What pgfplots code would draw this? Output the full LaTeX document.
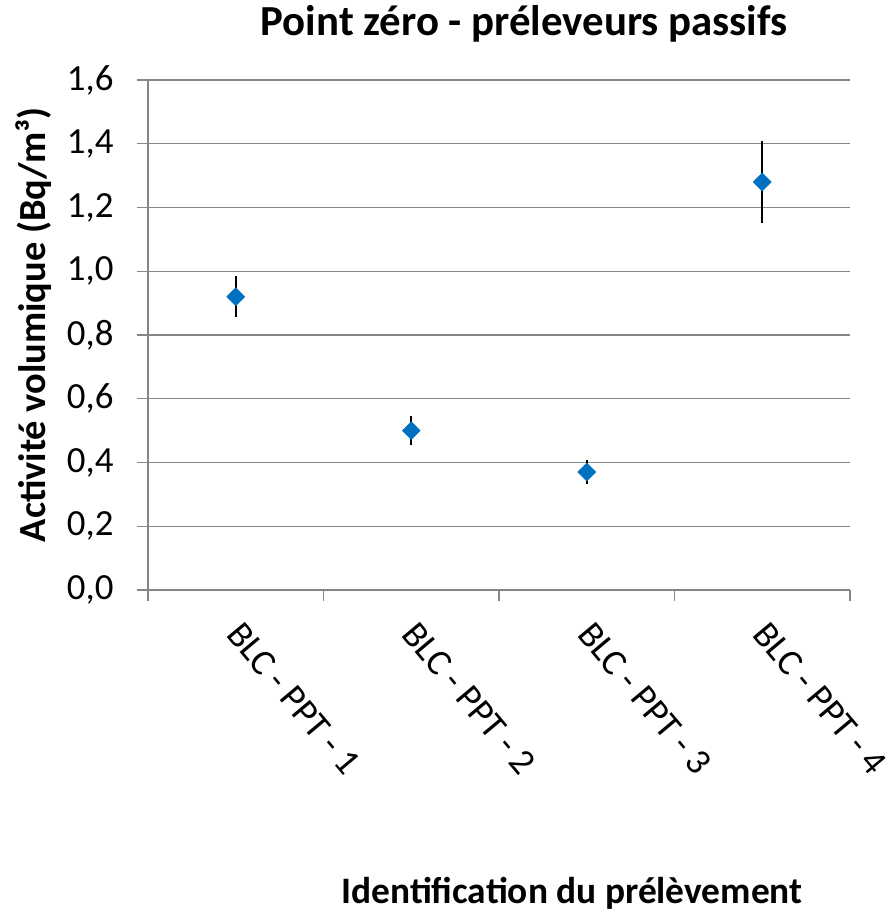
\documentclass[border=0pt]{standalone}
\usepackage{fontspec}
\setmainfont{Carlito}
\usepackage{pgfplots}
\pgfplotsset{compat=1.18}
\definecolor{gridgray}{HTML}{868686}
\definecolor{xlblue}{HTML}{0070C0}
\begin{document}
\begin{tikzpicture}
\path[use as bounding box] (-148bp,-322bp) rectangle (739bp,590bp);
\begin{axis}[
  at={(0,0)}, anchor=south west,
  width=702bp, height=510bp, scale only axis,
  xmin=-0.5, xmax=3.5, ymin=0, ymax=1.6,
  axis x line*=bottom, axis y line*=left,
  axis line style={draw=gridgray, line width=1.2bp, -},
  xtick={-0.5,0.5,1.5,2.5,3.5},
  xticklabels={},
  extra x ticks={0,1,2,3},
  extra x tick labels={BLC - PPT - 1, BLC - PPT - 2, BLC - PPT - 3, BLC - PPT - 4},
  extra x tick style={tick style={draw=none}, xticklabel style={rotate=-50, anchor=north west, xshift=16bp, yshift=-2.5bp}},
  ytick={0,0.2,...,1.6},
  ymajorgrids,
  major grid style={draw=gridgray, line width=1.2bp},
  tick align=outside,
  tick style={draw=gridgray, line width=1.2bp},
  major tick length=11bp,
  /pgf/number format/assume math mode=true,
  yticklabel={\pgfmathprintnumber[fixed, fixed zerofill, precision=1, use comma]{\tick}},
  tick label style={font=\fontsize{37}{44}\selectfont},
  yticklabel style={anchor=east, xshift=-20bp},
  title={Point zéro - préleveurs passifs},
  title style={at={(axis description cs:0.536,1.098)}, anchor=center, font=\bfseries\fontsize{43}{50}\selectfont},
  xlabel={Identification du prélèvement},
  xlabel style={at={(axis description cs:0.604,-0.595)}, anchor=center, font=\bfseries\fontsize{37.5}{44}\selectfont},
  ylabel={Activité volumique (Bq/m³)},
  ylabel style={at={(axis description cs:-0.163,0.52)}, anchor=center, rotate=0, font=\bfseries\fontsize{38.5}{44}\selectfont},
  clip=false,
]
\addplot[
  only marks,
  mark=square*,
  mark size=6.4bp,
  mark options={rotate=45, fill=xlblue, draw=xlblue},
  error bars/.cd,
    y dir=both, y explicit,
    error mark=none,
    error bar style={black, line width=1.6bp},
] table[x=x, y=y, y error=e] {
x y e
0 0.92 0.065
1 0.50 0.045
2 0.37 0.038
3 1.28 0.128
};
\end{axis}
\end{tikzpicture}
\end{document}
